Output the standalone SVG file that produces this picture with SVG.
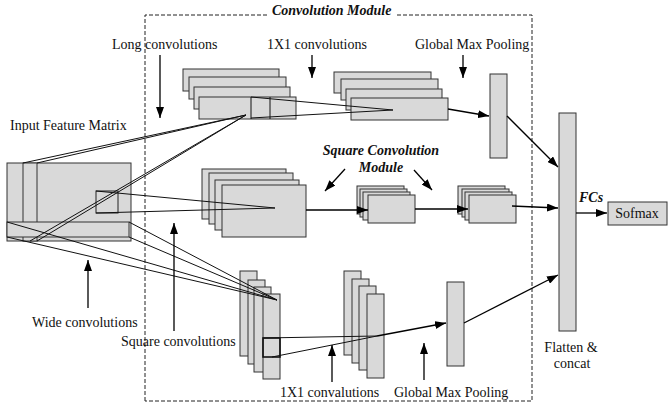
<svg xmlns="http://www.w3.org/2000/svg" width="668" height="409" viewBox="0 0 668 409">
<defs>
<style>
.b{fill:#d9d9d9;stroke:#333;stroke-width:1}
.l{fill:none;stroke:#111;stroke-width:1}
.a{fill:none;stroke:#000;stroke-width:1.3;marker-end:url(#ah)}
.t{font-family:"Liberation Serif","Times New Roman",serif;font-size:14px;fill:#111}
.bi{font-weight:bold;font-style:italic}
</style>
<marker id="ah" markerUnits="userSpaceOnUse" markerWidth="12" markerHeight="8" refX="11" refY="4" orient="auto">
<path d="M0,0 L11,4 L0,8 z" fill="#000"/>
</marker>
</defs>
<rect width="668" height="409" fill="#fff"/>

<g id="module-frame">
<path d="M145,401 V15 H268 M397,15 H532 V401 H145" fill="none" stroke="#222" stroke-width="1" stroke-dasharray="4,2"/>
<text class="t bi" x="272" y="15">Convolution Module</text>
</g>

<g id="input-matrix">
<rect class="b" x="7" y="163" width="124" height="78"/>
<rect class="b" x="23" y="163" width="14" height="78"/>
<rect class="b" x="7" y="222" width="122" height="15"/>
<rect x="96" y="191" width="22" height="22" fill="none" stroke="#222"/>
<text class="t" x="10" y="130">Input Feature Matrix</text>
</g>

<g id="long-conv-stack">
<rect class="b" x="183" y="69" width="96" height="22"/>
<rect class="b" x="189" y="77" width="97" height="22"/>
<rect class="b" x="194" y="87" width="96" height="22"/>
<rect class="b" x="199" y="97" width="97" height="22"/>
<path class="l" d="M251,97 V119 M270,97 V119"/>
</g>

<g id="top-1x1-stack">
<rect class="b" x="334" y="72" width="97" height="21"/>
<rect class="b" x="341" y="79" width="97" height="21"/>
<rect class="b" x="346" y="89" width="96" height="21"/>
<rect class="b" x="351" y="98" width="97" height="22"/>
</g>

<g id="top-gmp"><rect class="b" x="490" y="74" width="17" height="84"/></g>

<g id="square-conv-stack">
<rect class="b" x="202" y="169" width="84" height="50"/>
<rect class="b" x="209" y="173" width="84" height="51"/>
<rect class="b" x="215" y="180" width="84" height="50"/>
<rect class="b" x="222" y="185" width="84" height="52"/>
</g>

<g id="square-module-1">
<rect class="b" x="357" y="186" width="47" height="28"/>
<rect class="b" x="360" y="189" width="47" height="28"/>
<rect class="b" x="363" y="192" width="47" height="28"/>
<rect class="b" x="368" y="195" width="47" height="28"/>
</g>

<g id="square-module-2">
<rect class="b" x="458" y="186" width="47" height="28"/>
<rect class="b" x="462" y="189" width="47" height="28"/>
<rect class="b" x="465" y="192" width="47" height="28"/>
<rect class="b" x="469" y="195" width="47" height="28"/>
</g>

<g id="wide-conv-stack">
<rect class="b" x="240" y="271" width="17" height="85"/>
<rect class="b" x="248" y="280" width="17" height="84"/>
<rect class="b" x="254" y="287" width="17" height="85"/>
<rect class="b" x="263" y="294" width="17" height="85"/>
<rect x="263" y="338" width="17" height="19" fill="none" stroke="#111" stroke-width="1.6"/>
</g>

<g id="bottom-1x1-stack">
<rect class="b" x="344" y="271" width="17" height="84"/>
<rect class="b" x="352" y="279" width="17" height="84"/>
<rect class="b" x="359" y="286" width="17" height="84"/>
<rect class="b" x="367" y="294" width="17" height="84"/>
</g>

<g id="bottom-gmp"><rect class="b" x="447" y="282" width="17" height="84"/></g>

<g id="flatten">
<rect class="b" x="559" y="113" width="17" height="218"/>
<text class="t" x="571" y="352" text-anchor="middle">Flatten &amp;</text>
<text class="t" x="572" y="368" text-anchor="middle">concat</text>
</g>

<g id="softmax">
<rect class="b" x="608" y="202" width="59" height="23"/>
<text class="t" x="637" y="218" text-anchor="middle">Sofmax</text>
</g>

<g id="connectors">
<!-- long conv projection -->
<path class="l" d="M23,163 L246,115 M37,163 L246,115 M30,241 L246,115 M37,241 L246,115"/>
<path class="l" d="M251,97 L393,110 M251,118 L393,110"/>
<!-- square conv projection -->
<path class="l" d="M96,191 L275,208 M96,213 L275,208"/>
<!-- wide conv projection -->
<path class="l" d="M7,222 L277,300 M7,237 L277,300 M129,222 L277,300 M129,237 L277,300"/>
<path class="l" d="M263,338 L377,336 M272,357 L377,336" stroke-width="1.2"/>
<!-- flow arrows -->
<path class="a" d="M448,109 L489,116"/>
<path class="a" d="M507,116 L558,167"/>
<path class="a" d="M306,210 L368,210"/>
<path class="a" d="M415,209 L468,209"/>
<path class="a" d="M512,206 L558,208"/>
<path class="a" d="M377,336 L446,323"/>
<path class="a" d="M464,323 L558,275"/>
<path class="a" d="M576,213 L607,213"/>
<!-- label pointers -->
<path class="a" d="M160,55 L160,118"/>
<path class="a" d="M312,55 L312,78"/>
<path class="a" d="M463,55 L463,78"/>
<path class="a" d="M345,169 L325,191"/>
<path class="a" d="M414,170 L432,190"/>
<path class="a" d="M88,308 L88,260"/>
<path class="a" d="M174,331 L174,223"/>
<path class="a" d="M332,382 L332,345"/>
<path class="a" d="M424,380 L424,343"/>
</g>

<g id="labels">
<text class="t" x="112" y="49">Long convolutions</text>
<text class="t" x="267" y="49">1X1 convolutions</text>
<text class="t" x="415" y="49">Global Max Pooling</text>
<text class="t bi" x="381" y="155" text-anchor="middle">Square Convolution</text>
<text class="t bi" x="381" y="172" text-anchor="middle">Module</text>
<text class="t bi" x="579" y="202">FCs</text>
<text class="t" x="32" y="327">Wide convolutions</text>
<text class="t" x="121" y="346">Square convolutions</text>
<text class="t" x="280" y="397">1X1 convalutions</text>
<text class="t" x="394" y="397">Global Max Pooling</text>
</g>
</svg>
